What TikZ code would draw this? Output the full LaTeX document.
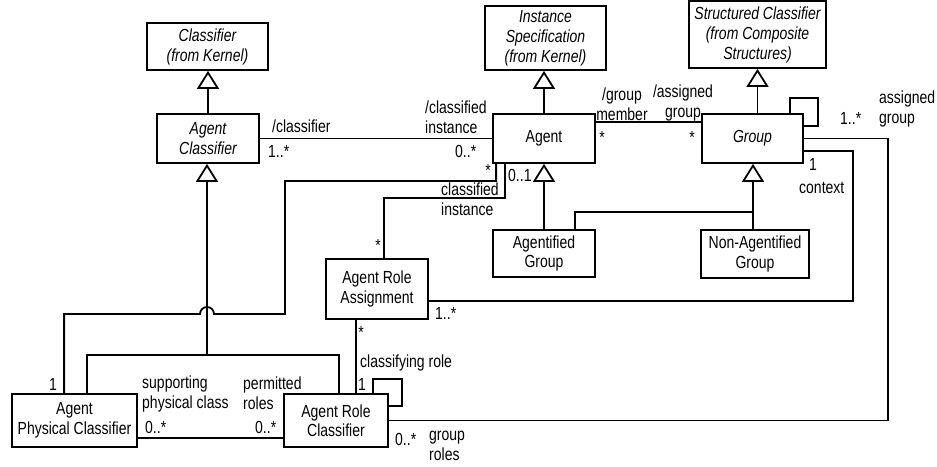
\documentclass[tikz,border=0pt]{standalone}
\usepackage{fontspec}
\setmainfont[FakeStretch=0.8]{Liberation Sans}
\usetikzlibrary{arrows.meta, positioning}

\begin{document}
\begin{tikzpicture}[x=1pt, y=-1pt,
    cls/.style={draw, line width=1.8pt, align=center, inner sep=1pt,
                font=\fontsize{17.5}{19.5}\selectfont},
    abs/.style={cls, font=\fontsize{17.5}{20}\selectfont\itshape},
    lbl/.style={inner sep=0pt, align=left, font=\fontsize{17.5}{20}\selectfont},
    assoc/.style={line width=1.8pt},
    gen/.style={assoc, -{Triangle[open, width=22pt, length=18pt]}}]
\useasboundingbox (0,0) rectangle (937,466);

% classes
\node[abs, minimum width=121pt, minimum height=47pt] (clf) at (207.5,46.5) {Classifier\\(from Kernel)};
\node[abs, minimum width=102pt, minimum height=49pt] (agcl) at (208,138.5) {Agent\\Classifier};
\node[abs, minimum width=121pt, minimum height=64pt] (inst) at (545.5,38) {Instance\\Specification\\(from Kernel)};
\node[cls, minimum width=102pt, minimum height=49pt] (agent) at (544,138.5) {Agent};
\node[abs, minimum width=137pt, minimum height=67pt] (sclf) at (757.5,34.5) {Structured Classifier\\(from Composite\\Structures)};
\node[abs, minimum width=101pt, minimum height=49pt] (group) at (752.5,138.5) {Group};
\node[cls, minimum width=102pt, minimum height=47pt] (agg) at (544,253.5) {Agentified\\Group};
\node[cls, minimum width=108pt, minimum height=48pt] (nagg) at (755,254) {Non-Agentified\\Group};
\node[cls, minimum width=102pt, minimum height=60pt] (ara) at (377,289) {Agent Role\\Assignment};
\node[cls, minimum width=125pt, minimum height=53pt] (apc) at (74.5,420.5) {Agent\\Physical Classifier};
\node[cls, minimum width=104pt, minimum height=53pt] (arc) at (336,420.5) {Agent Role\\Classifier};

% bends
\coordinate (gsplit) at (207,355);
\coordinate (gjoin) at (753,212);
\coordinate (bendA) at (285,314);
\coordinate (hop) at (207,314);

% generalizations
\draw[gen] (agcl.north) -- (agcl.north |- clf.south);
\draw[gen] (agent.north) -- (agent.north |- inst.south);
\draw[gen] (sclf.south |- group.north) -- (sclf.south);
\draw[gen] (agg.north) -- (agg.north |- agent.south);
\draw[gen] (gjoin |- nagg.north) -- (gjoin |- group.south);
\draw[assoc] ([xshift=-21pt]agg.north east) |- (gjoin);
\draw[gen] (gsplit) -- (gsplit |- agcl.south);
\draw[assoc] ([xshift=76pt]apc.north west) |- (gsplit) -| ([xshift=3pt]arc.north);

% associations
\draw[assoc] (agcl.east) -- (agent.west);
\draw[assoc] ([yshift=16.5pt]agent.east) -- ([yshift=16.5pt]group.west);
\draw[assoc] ([xshift=-14pt]group.north east) -- ++(0,-15) -- ++(28,0) |- ([yshift=12.5pt]group.east);
\draw[assoc] (group.east) -- ++(84,0) |- (arc.east);
\draw[assoc] ([yshift=-12.5pt]group.east) -- ++(49,0) |- ([yshift=-12pt]ara.east);
\draw[assoc] ([xshift=13pt]agent.south west) -- ++(0,34) -| ([xshift=7pt]ara.north);
\draw[assoc] ([xshift=4pt]agent.south west) -- ++(0,17) -| (bendA) -- ([xshift=7pt]hop)
    arc[start angle=0, end angle=180, radius=7pt] -| ([xshift=53pt]apc.north west);
\draw[assoc] ([xshift=-21pt]ara.south) -- ([xshift=-21pt]ara.south |- arc.north);
\draw[assoc] ([xshift=37pt]arc.north) -- ++(0,-14) -- ++(29,0) |- ([yshift=14.5pt]arc.east);
\draw[assoc] ([yshift=-17.5pt]apc.east) -- ([yshift=-17.5pt]arc.west);

% role names and multiplicities
\node[lbl, anchor=base west] (rclsr) at (272,132) {/classifier};
\node[lbl, anchor=base west] (mclsr) at (268,157) {1..*};
\node[lbl, anchor=west] (rclsi) at (425,117.5) {/classified\\instance};
\node[lbl, anchor=base west] (mclsi) at (455,157) {0..*};
\node[lbl, anchor=base] (magap) at (488,176) {*};
\node[lbl, anchor=base west] (magara) at (508,181) {0..1};
\node[lbl, anchor=west] (rinst) at (441,199.5) {classified\\instance};
\node[lbl, anchor=base] (mara1) at (378,251) {*};
\node[lbl, align=center] (rmemb) at (622,104) {/group\\member};
\node[lbl, align=center] (rasg) at (683,103) {/assigned\\group};
\node[lbl, anchor=base] (mmemb) at (602,143) {*};
\node[lbl, anchor=base] (masg) at (692,143) {*};
\node[lbl, anchor=base west] (mgrp) at (840,124) {1..*};
\node[lbl, anchor=west] (rgrp) at (879,109) {assigned\\group};
\node[lbl, anchor=base west] (mctx) at (809,170) {1};
\node[lbl, anchor=base west] (rctx) at (799,193) {context};
\node[lbl, anchor=base west] (mara2) at (435,319) {1..*};
\node[lbl, anchor=base] (mara3) at (361,338) {*};
\node[lbl, anchor=base west] (rcrole) at (360,367) {classifying role};
\node[lbl, anchor=base west] (mcrole) at (358,390) {1};
\node[lbl, anchor=base west] (marc) at (395,445) {0..*};
\node[lbl, anchor=west] (rgroles) at (429,446) {group\\roles};
\node[lbl, anchor=base west] (mapc) at (49,390) {1};
\node[lbl, anchor=west] (rsupp) at (142,394) {supporting\\physical class};
\node[lbl, anchor=base west] (msupp) at (145,433) {0..*};
\node[lbl, anchor=west] (rperm) at (243,393) {permitted\\roles};
\node[lbl, anchor=base west] (mperm) at (255,433) {0..*};
\end{tikzpicture}
\end{document}
